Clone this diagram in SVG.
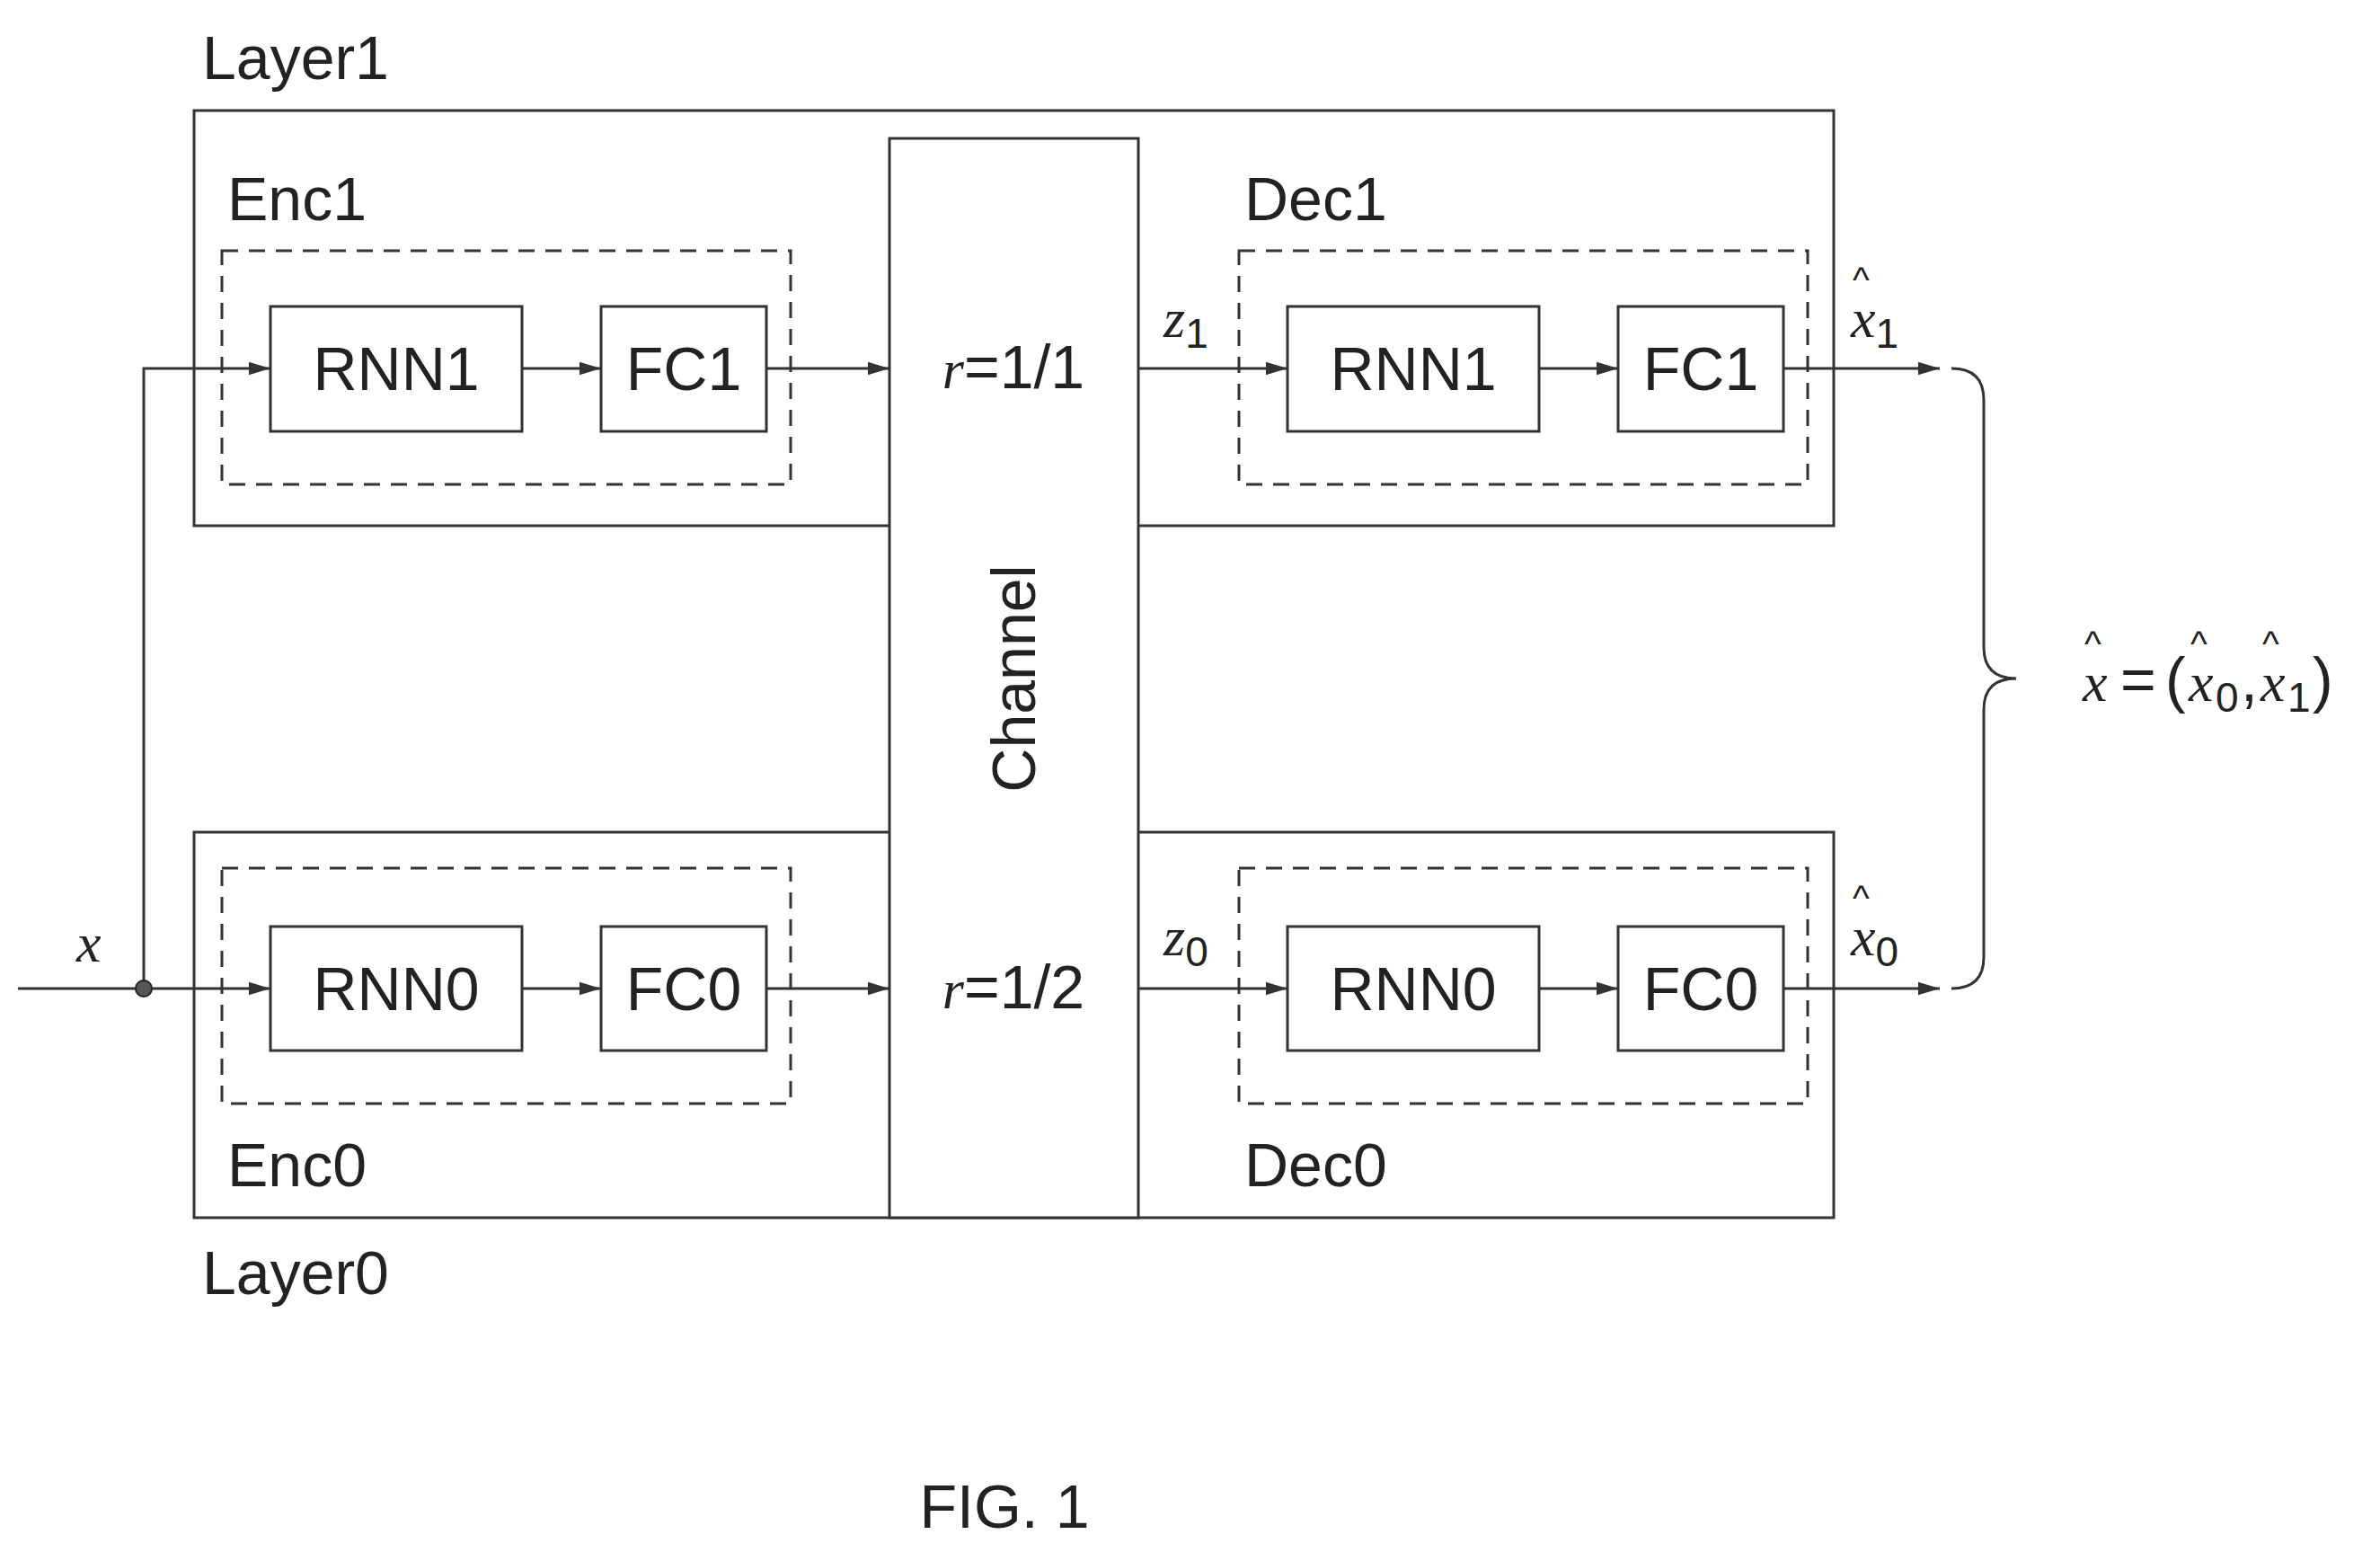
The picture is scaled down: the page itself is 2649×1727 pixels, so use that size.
<svg xmlns="http://www.w3.org/2000/svg" width="2649" height="1727" viewBox="0 0 2649 1727">
<style>
.b{fill:none;stroke:#333;stroke-width:3}
.d{fill:none;stroke:#333;stroke-width:3;stroke-dasharray:18 12}
.t{font-family:"Liberation Sans",Arial,sans-serif;font-size:68px;fill:#222}
.m{font-family:"Liberation Serif","Times New Roman",serif;font-style:italic;font-size:62px;fill:#222}
.s{font-family:"Liberation Sans",Arial,sans-serif;font-style:normal;font-size:46px;fill:#222}
.h{font-family:"Liberation Sans",Arial,sans-serif;font-size:40px;fill:#222}
.c{fill:none;stroke:#333;stroke-width:3}
</style>
<defs>
<marker id="a2" viewBox="0 0 10 10" refX="10" refY="5" markerWidth="24" markerHeight="24" markerUnits="userSpaceOnUse" orient="auto"><path d="M0,2 L10,5 L0,8 z" fill="#333"/></marker></defs>
<rect width="2649" height="1727" fill="#fff"/>
<g id="layer1"><rect class="b" x="216" y="123" width="1825" height="462"/><text class="t" x="225" y="88">Layer1</text></g>
<g id="layer0"><rect class="b" x="216" y="926" width="1825" height="429"/><text class="t" x="225" y="1440">Layer0</text></g>
<g id="channel"><rect x="990" y="154" width="277" height="1201" fill="#fff" stroke="#333" stroke-width="3"/>
<text class="t" x="1128" y="755" text-anchor="middle" dominant-baseline="central" transform="rotate(-90 1128 755)">Channel</text>
<text class="t" x="1128" y="432" text-anchor="middle"><tspan class="m">r</tspan>=1/1</text>
<text class="t" x="1128" y="1122" text-anchor="middle"><tspan class="m">r</tspan>=1/2</text></g>
<g id="enc1"><rect class="d" x="247" y="279" width="633" height="260"/><text class="t" x="253" y="245">Enc1</text>
<rect class="b" x="301" y="341" width="280" height="139"/><text class="t" x="441" y="434" text-anchor="middle">RNN1</text>
<rect class="b" x="669" y="341" width="184" height="139"/><text class="t" x="761" y="434" text-anchor="middle">FC1</text></g>
<g id="dec1"><rect class="d" x="1379" y="279" width="633" height="260"/><text class="t" x="1385" y="245">Dec1</text>
<rect class="b" x="1433" y="341" width="280" height="139"/><text class="t" x="1573" y="434" text-anchor="middle">RNN1</text>
<rect class="b" x="1801" y="341" width="184" height="139"/><text class="t" x="1893" y="434" text-anchor="middle">FC1</text></g>
<g id="enc0"><rect class="d" x="247" y="966" width="633" height="262"/><text class="t" x="253" y="1320">Enc0</text>
<rect class="b" x="301" y="1031" width="280" height="138"/><text class="t" x="441" y="1124" text-anchor="middle">RNN0</text>
<rect class="b" x="669" y="1031" width="184" height="138"/><text class="t" x="761" y="1124" text-anchor="middle">FC0</text></g>
<g id="dec0"><rect class="d" x="1379" y="966" width="633" height="262"/><text class="t" x="1385" y="1320">Dec0</text>
<rect class="b" x="1433" y="1031" width="280" height="138"/><text class="t" x="1573" y="1124" text-anchor="middle">RNN0</text>
<rect class="b" x="1801" y="1031" width="184" height="138"/><text class="t" x="1893" y="1124" text-anchor="middle">FC0</text></g>
<g id="connectors">
<path class="c" d="M20,1100 H301" marker-end="url(#a2)"/>
<path class="c" d="M160,1100 V410 H301" marker-end="url(#a2)"/>
<circle cx="160" cy="1100" r="9" fill="#555" stroke="#222" stroke-width="2"/>
<path class="c" d="M581,410 H669" marker-end="url(#a2)"/>
<path class="c" d="M853,410 H990" marker-end="url(#a2)"/>
<path class="c" d="M1267,410 H1433" marker-end="url(#a2)"/>
<path class="c" d="M1713,410 H1801" marker-end="url(#a2)"/>
<path class="c" d="M1985,410 H2159" marker-end="url(#a2)"/>
<path class="c" d="M581,1100 H669" marker-end="url(#a2)"/>
<path class="c" d="M853,1100 H990" marker-end="url(#a2)"/>
<path class="c" d="M1267,1100 H1433" marker-end="url(#a2)"/>
<path class="c" d="M1713,1100 H1801" marker-end="url(#a2)"/>
<path class="c" d="M1985,1100 H2159" marker-end="url(#a2)"/>
<path class="c" d="M2172,410 Q2208,410 2208,445 V720 Q2208,755 2244,755 Q2208,755 2208,790 V1065 Q2208,1100 2172,1100"/>
</g>
<g id="labels">
<text class="m" x="85" y="1070">x</text>
<text class="m" x="1295" y="375">z<tspan class="s" dy="12">1</tspan></text>
<text class="m" x="1295" y="1063">z<tspan class="s" dy="12">0</tspan></text>
<text class="m" x="2060" y="375">x<tspan class="s" dy="12">1</tspan></text><text class="h" x="2062" y="325">^</text>
<text class="m" x="2060" y="1063">x<tspan class="s" dy="12">0</tspan></text><text class="h" x="2062" y="1013">^</text>
<text class="m" x="2318" y="780">x</text><text class="h" x="2320" y="730">^</text>
<text class="t" x="2360" y="780">=</text>
<text class="t" x="2410" y="780">(</text>
<text class="m" x="2436" y="780">x</text><text class="h" x="2438" y="730">^</text>
<text class="s" x="2466" y="792">0</text>
<text class="t" x="2494" y="780">,</text>
<text class="m" x="2516" y="780">x</text><text class="h" x="2518" y="730">^</text>
<text class="s" x="2546" y="792">1</text>
<text class="t" x="2574" y="780">)</text>
<text class="t" x="1118" y="1700" text-anchor="middle">FIG. 1</text>
</g>
</svg>
